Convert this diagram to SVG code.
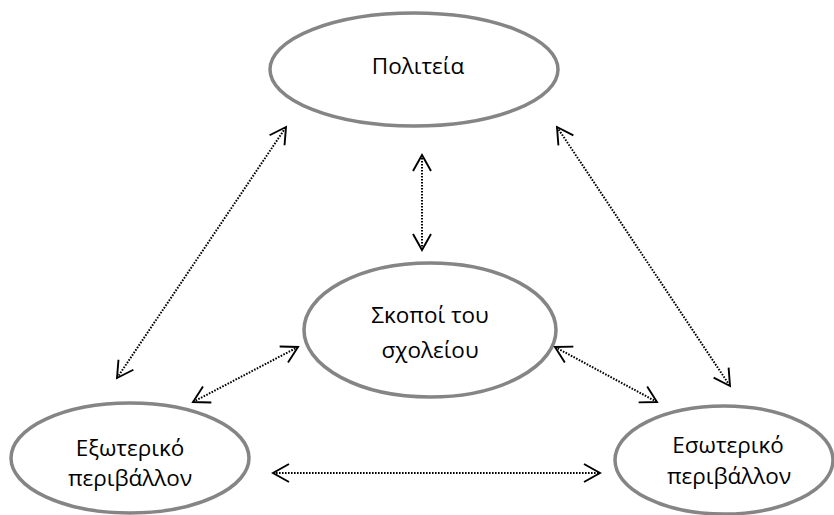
<svg xmlns="http://www.w3.org/2000/svg" width="834" height="515" viewBox="0 0 834 515">
<style>
.node ellipse{fill:#fff;stroke:#858585;stroke-width:3.5}
.node text{font-family:"Open Sans","Noto Sans",sans-serif;font-size:22.5px;fill:#000;text-anchor:middle}
.conn line{stroke:#000;stroke-width:2;stroke-dasharray:1.6 1.4;fill:none;marker-start:url(#ah);marker-end:url(#ah)}
</style>
<defs>
<marker id="ah" viewBox="-20 -12 24 24" markerWidth="24" markerHeight="24" refX="0" refY="0" orient="auto-start-reverse" markerUnits="userSpaceOnUse">
<path d="M-16,-9 L0,0 L-16,9" fill="none" stroke="#000" stroke-width="1.9" stroke-dasharray="none"/>
</marker>
</defs>
<g id="politeia" class="node">
<ellipse cx="414" cy="69.5" rx="144" ry="56.5"/>
<text x="418" y="74">Πολιτεία</text>
</g>
<g id="skopoi" class="node">
<ellipse cx="430" cy="330" rx="126" ry="67"/>
<text x="430" y="323">Σκοποί του</text>
<text x="430" y="358">σχολείου</text>
</g>
<g id="exoteriko" class="node">
<ellipse cx="130" cy="458" rx="119" ry="55"/>
<text x="130" y="456">Εξωτερικό</text>
<text x="130" y="486">περιβάλλον</text>
</g>
<g id="esoteriko" class="node">
<ellipse cx="724" cy="460" rx="109" ry="54"/>
<text x="728" y="453">Εσωτερικό</text>
<text x="729" y="484">περιβάλλον</text>
</g>
<g id="connectors" class="conn">
<line x1="117" y1="378" x2="286" y2="127"/>
<line x1="422" y1="155" x2="422" y2="250"/>
<line x1="557" y1="127" x2="730" y2="386"/>
<line x1="193" y1="402" x2="298" y2="347"/>
<line x1="555" y1="347" x2="657" y2="402"/>
<line x1="273" y1="473" x2="600" y2="473"/>
</g>
</svg>
